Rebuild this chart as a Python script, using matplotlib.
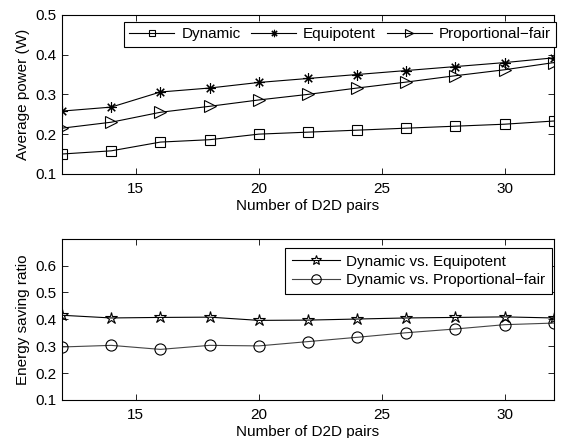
import matplotlib.pyplot as plt
import numpy as np

plt.rcParams['font.family'] = ['Liberation Sans', 'DejaVu Sans']
plt.rcParams['font.size'] = 11

pairs = [12, 14, 16, 18, 20, 22, 24, 26, 28, 30, 32]

# average transmit power (W)
dynamic = [0.150, 0.158, 0.180, 0.186, 0.200, 0.205, 0.210, 0.215, 0.220, 0.225, 0.233]
equipotent = [0.258, 0.268, 0.306, 0.316, 0.330, 0.340, 0.350, 0.360, 0.370, 0.380, 0.392]
prop_fair = [0.215, 0.230, 0.255, 0.270, 0.286, 0.300, 0.316, 0.331, 0.347, 0.362, 0.380]

# energy saving ratios
save_vs_equi = [0.415, 0.405, 0.407, 0.408, 0.396, 0.397, 0.401, 0.405, 0.407, 0.409, 0.405]
save_vs_pf = [0.297, 0.303, 0.288, 0.303, 0.301, 0.317, 0.333, 0.350, 0.364, 0.380, 0.386]

fig = plt.figure(figsize=(5.64, 4.38), dpi=100)
ax1 = fig.add_axes([0.110, 0.603, 0.872, 0.363])
ax2 = fig.add_axes([0.110, 0.087, 0.872, 0.368])

asterisk = (8, 2, 0)
mk = dict(markerfacecolor='none', markeredgecolor='black', markeredgewidth=0.8)
ax1.plot(pairs, dynamic, '-s', color='black', lw=0.8, ms=6.5, label='Dynamic', **mk)
ax1.plot(pairs, equipotent, '-', marker=asterisk, color='black', lw=0.8, ms=7.5,
         label='Equipotent', **mk)
ax1.plot(pairs, prop_fair, '->', color='black', lw=0.8, ms=8, label='Proportional\u2212fair', **mk)
ax1.set_xlim(12, 32)
ax1.set_ylim(0.1, 0.5)
ax1.set_yticks(np.arange(0.1, 0.51, 0.1))
ax1.set_xticks([15, 20, 25, 30])
ax1.set_xlabel('Number of D2D pairs', labelpad=2)
ax1.set_ylabel('Average power (W)')
leg1 = ax1.legend(loc='upper left', ncol=3, bbox_to_anchor=(0.126, 0.956),
                  fancybox=False, edgecolor='black', framealpha=1,
                  handlelength=2.95, handletextpad=0.45, columnspacing=0.7,
                  borderpad=0.35, borderaxespad=0, markerscale=0.7)
leg1.get_frame().set_linewidth(0.8)

ax2.plot(pairs, save_vs_equi, '-*', color='black', lw=0.8, ms=9,
         label='Dynamic vs. Equipotent', **mk)
ax2.plot(pairs, save_vs_pf, '-o', color='#444444', lw=0.8, ms=8,
         label='Dynamic vs. Proportional\u2212fair', **mk)
ax2.set_xlim(12, 32)
ax2.set_ylim(0.1, 0.7)
ax2.set_yticks(np.arange(0.1, 0.61, 0.1))
ax2.set_xticks([15, 20, 25, 30])
ax2.set_xlabel('Number of D2D pairs', labelpad=2)
ax2.set_ylabel('Energy saving ratio')
leg2 = ax2.legend(loc='upper left', bbox_to_anchor=(0.453, 0.944),
                  fancybox=False, edgecolor='black', framealpha=1,
                  handlelength=3.15, handletextpad=0.4, borderpad=0.45,
                  labelspacing=0.3, borderaxespad=0, markerscale=0.85)
leg2.get_frame().set_linewidth(0.8)

for ax in (ax1, ax2):
    ax.tick_params(direction='in', top=True, right=True, length=4, width=0.6)
    ax.tick_params(axis='x', pad=6)
    ax.tick_params(axis='y', pad=4)
    for s in ax.spines.values():
        s.set_linewidth(0.8)

fig.savefig('out.png', dpi=100)
